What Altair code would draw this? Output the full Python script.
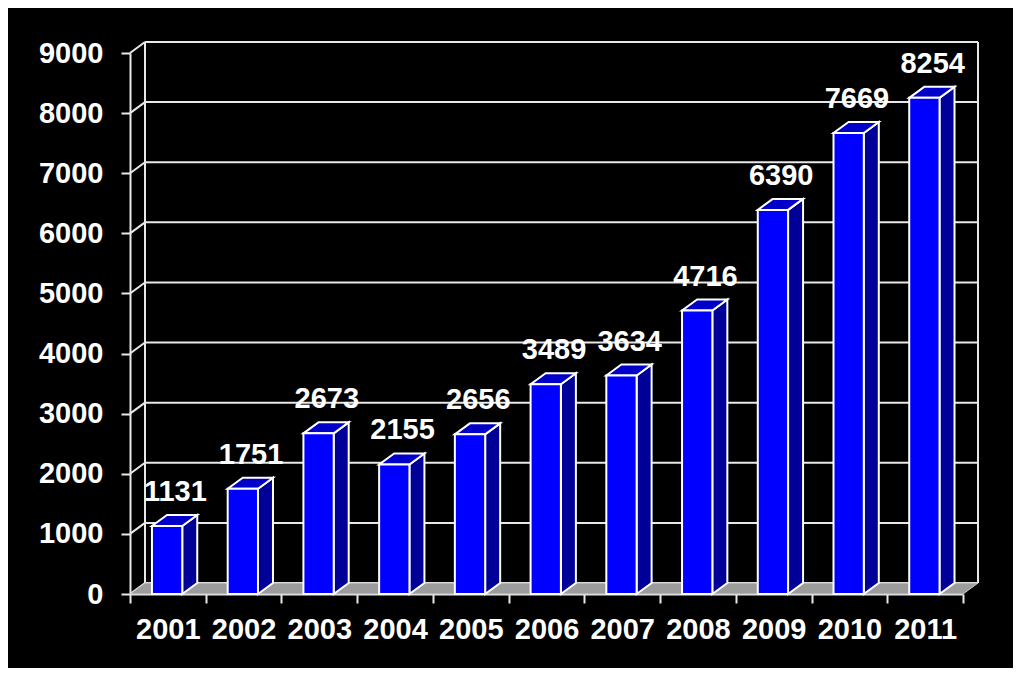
import altair as alt
import pandas as pd

# ---- data ----
YEARS = ["2001", "2002", "2003", "2004", "2005", "2006", "2007", "2008", "2009", "2010", "2011"]
VALUES = [1131, 1751, 2673, 2155, 2656, 3489, 3634, 4716, 6390, 7669, 8254]
Y_TICKS = [0, 1000, 2000, 3000, 4000, 5000, 6000, 7000, 8000, 9000]

# ---- style / geometry constants ----
FONT = "Liberation Sans"
W, H = 833, 541
XMAX = len(YEARS)
YMAX = Y_TICKS[-1]
DEPTH_X_PX, DEPTH_Y_PX = 15, 11          # 3-D depth in pixels
DX = DEPTH_X_PX * XMAX / W               # depth in data units
DY = DEPTH_Y_PX * YMAX / H
BAR_LO, BAR_HI = 0.29, 0.69              # bar front face within its band
LINE = "#e8e8e8"

xs = alt.Scale(domain=[0, XMAX], nice=False, zero=False)
ys = alt.Scale(domain=[0, YMAX], nice=False, zero=False)

# ---- derived tables ----
front = pd.DataFrame({
    "year": YEARS,
    "value": VALUES,
    "x0": [i + BAR_LO for i in range(XMAX)],
    "x1": [i + BAR_HI for i in range(XMAX)],
    "xc": [i + 0.5 + DX / 2 for i in range(XMAX)],
})

side_rows, top_rows = [], []
for i, (yr, v) in enumerate(zip(YEARS, VALUES)):
    x0, x1 = i + BAR_LO, i + BAR_HI
    side_rows += [
        {"year": yr, "x": x1, "y": 0, "y2": v},
        {"year": yr, "x": x1 + DX, "y": DY, "y2": v + DY},
    ]
    top_rows += [
        {"year": yr, "y": v, "x": x0, "x2": x1},
        {"year": yr, "y": v + DY, "x": x0 + DX, "x2": x1 + DX},
    ]
side = pd.DataFrame(side_rows)
top = pd.DataFrame(top_rows)

floor = pd.DataFrame([
    {"y": 0, "x": 0, "x2": XMAX},
    {"y": DY, "x": DX, "x2": XMAX + DX},
])

rules = []
for t in Y_TICKS:
    rules.append({"x": DX, "x2": XMAX + DX, "y": t + DY, "y2": t + DY})   # back-wall grid
    rules.append({"x": 0, "x2": DX, "y": t, "y2": t + DY})                # side-wall diagonal
for xv in (DX, XMAX + DX):
    rules.append({"x": xv, "x2": xv, "y": DY, "y2": YMAX + DY})           # back-wall edges
rules = pd.DataFrame(rules)

# ---- axes ----
x_axis = alt.Axis(
    values=[k * 0.5 for k in range(0, 2 * XMAX + 1)],
    labelExpr="datum.value % 1 == 0.5 ? " + str(YEARS) + "[floor(datum.value)] : ''",
    tickOpacity={"condition": {"test": "datum.value % 1 != 0", "value": 0}, "value": 1},
    title=None, grid=False,
    tickSize=9, tickColor=LINE, tickWidth=2,
    domainColor=LINE, domainWidth=2,
    labelColor="white", labelFont=FONT, labelFontSize=29, labelFontWeight="bold",
    labelPadding=12, labelFlush=False, labelOverlap=False, labelBound=False,
)
y_axis = alt.Axis(
    values=Y_TICKS, format="d", title=None, grid=False,
    tickSize=9, tickColor=LINE, tickWidth=2,
    domainColor=LINE, domainWidth=2,
    labelColor="white", labelFont=FONT, labelFontSize=29, labelFontWeight="bold",
    labelPadding=18, labelFlush=False, labelOverlap=False,
)

# ---- layers ----
walls = alt.Chart(rules).mark_rule(color=LINE, strokeWidth=2).encode(
    x=alt.X("x:Q", scale=xs, axis=x_axis),
    x2="x2:Q",
    y=alt.Y("y:Q", scale=ys, axis=y_axis),
    y2="y2:Q",
)

floor_layer = alt.Chart(floor).mark_area(
    orient="horizontal", color="#9c9c9c", stroke="#cfcfcf", strokeWidth=1
).encode(
    y=alt.Y("y:Q", scale=ys, axis=y_axis),
    x=alt.X("x:Q", scale=xs, axis=x_axis),
    x2="x2:Q",
)

side_layer = alt.Chart(side).mark_area(
    orient="vertical", color="#000098", stroke="white", strokeWidth=2
).encode(
    x=alt.X("x:Q", scale=xs, axis=x_axis),
    y=alt.Y("y:Q", scale=ys, axis=y_axis),
    y2="y2:Q",
    detail="year:N",
)

top_layer = alt.Chart(top).mark_area(
    orient="horizontal", color="#0000c8", stroke="white", strokeWidth=2
).encode(
    y=alt.Y("y:Q", scale=ys, axis=y_axis),
    x=alt.X("x:Q", scale=xs, axis=x_axis),
    x2="x2:Q",
    detail="year:N",
)

front_layer = alt.Chart(front).mark_rect(
    color="#0000ff", stroke="white", strokeWidth=2
).encode(
    x=alt.X("x0:Q", scale=xs, axis=x_axis),
    x2="x1:Q",
    y=alt.Y("value:Q", scale=ys, axis=y_axis),
    y2=alt.datum(0),
)

labels = alt.Chart(front).mark_text(
    font=FONT, fontSize=29, fontWeight="bold", color="white",
    align="center", baseline="alphabetic", dy=-25,
).encode(
    x=alt.X("xc:Q", scale=xs, axis=x_axis),
    y=alt.Y("value:Q", scale=ys, axis=y_axis),
    text="value:Q",
)

chart = alt.layer(
    walls, floor_layer, side_layer, top_layer, front_layer, labels
).properties(
    width=W, height=H,
    autosize="none",
    padding={"left": 122, "top": 45, "right": 50, "bottom": 74},
    background="black",
).configure_view(stroke=None)

chart.save("out.html", embed_options={"renderer": "svg", "actions": False})
